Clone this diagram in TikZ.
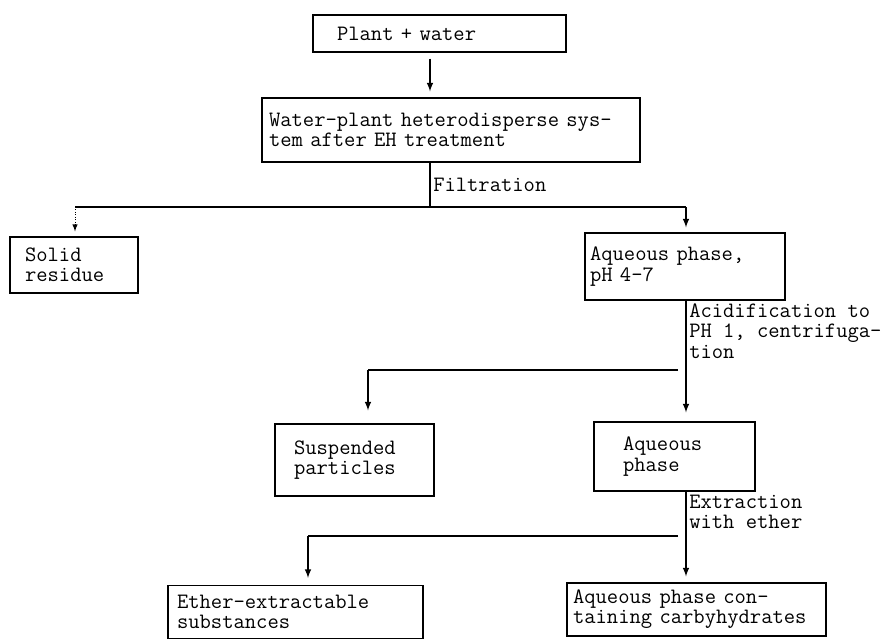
\documentclass[tikz,border=0pt]{standalone}
\usepackage{fontspec}
\usepackage{tikz}
\usetikzlibrary{arrows,calc,positioning}

\begin{document}
\begin{tikzpicture}[x=0.02cm,y=-0.02cm,>=latex,line width=0.7pt,
	every node/.style={font=\ttfamily\fontsize{12.5}{11.5}\selectfont},
	box/.style={draw,align=left,inner ysep=0pt},
	lab/.style={align=left,inner sep=1.5pt}]
		\useasboundingbox (0,0) rectangle (887,640);
		\node[box,minimum width=5.06cm,minimum height=0.74cm,inner xsep=0.48cm,text width=4.1cm] (plant) at (439.5,33.5) {Plant + water};
		\node[box,minimum width=7.56cm,minimum height=1.28cm,inner xsep=0.14cm,text width=7.28cm] (system) at (451,130) {Water-plant heterodisperse sys-\\tem after EH treatment};
		\node[box,minimum width=2.56cm,minimum height=1.12cm,inner xsep=0.3cm,text width=1.96cm] (solid) at (74,265) {Solid\\residue};
		\node[box,minimum width=4cm,minimum height=1.34cm,inner xsep=0.1cm,text width=3.8cm] (aqa) at (685,266.5) {Aqueous phase,\\pH 4-7};
		\node[box,minimum width=3.18cm,minimum height=1.44cm,inner xsep=0.38cm,text width=2.42cm] (susp) at (354.5,460) {Suspended\\particles};
		\node[box,minimum width=3.22cm,minimum height=1.38cm,inner xsep=0.58cm,text width=2.06cm] (aqb) at (674.5,456.5) {Aqueous\\phase};
		\node[box,minimum width=5.1cm,minimum height=1.06cm,inner xsep=0.18cm,text width=4.74cm] (ether) at (295.5,612) {Ether-extractable\\substances};
		\node[box,minimum width=5.18cm,minimum height=1.06cm,inner xsep=0.12cm,text width=4.94cm] (aqc) at (696.5,609.5) {Aqueous phase con-\\taining carbyhydrates};
		\coordinate (filt) at (430,207);
		\coordinate (solidcol) at (75,207);
		\coordinate (col) at (686,207);
		\coordinate (centr) at (678,370);
		\coordinate (suspcol) at (368,370);
		\coordinate (extr) at (678,536);
		\coordinate (ethercol) at (308,536);
		\draw[->,shorten <=0.12cm,shorten >=0.12cm] (plant.south -| filt) -- (system.north -| filt);
		\draw (system.south -| filt) -- node[lab,right]{Filtration} (filt);
		\draw (solidcol) -- (col);
		\draw[->,densely dotted,line width=0.4pt,shorten >=0.1cm] (solidcol) -- (solid.north -| solidcol);
		\draw[->,shorten >=0.1cm] (col) -- (aqa.north -| col);
		\draw[->,shorten >=0.18cm] (aqa.south -| col) -- node[lab,pos=0,anchor=north west]{Acidification to\\PH 1, centrifuga-\\tion} (aqb.north -| col);
		\draw (centr) -- (suspcol);
		\draw[->,shorten >=0.26cm] (suspcol) -- (susp.north -| suspcol);
		\draw[->,shorten >=0.12cm] (aqb.south -| col) -- node[lab,pos=0,anchor=north west]{Extraction\\with ether} (aqc.north -| col);
		\draw (extr) -- (ethercol);
		\draw[->,shorten >=0.14cm] (ethercol) -- (ether.north -| ethercol);
\end{tikzpicture}
\end{document}
